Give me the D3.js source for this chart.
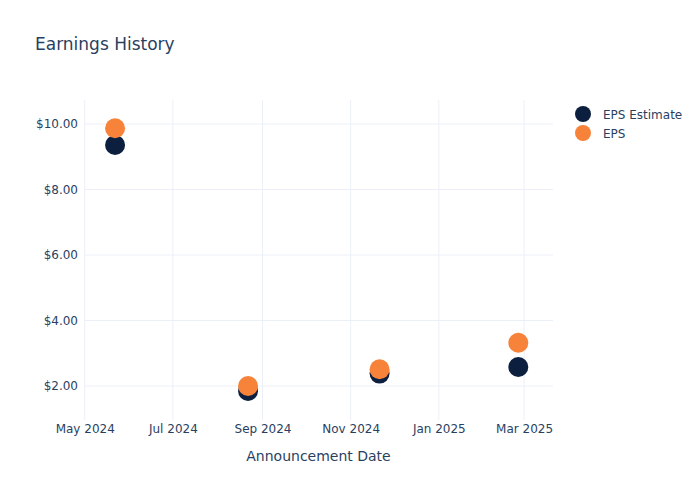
<!DOCTYPE html>
<html>
<head>
<meta charset="utf-8">
<script src="https://cdn.jsdelivr.net/npm/d3@7"></script>
<style>
  body { margin: 0; background: #fff; }
  text { font-family: "DejaVu Sans", sans-serif; fill: #2a3f5f; }
</style>
</head>
<body>
<svg id="chart" width="700" height="500"></svg>
<script>
const dates = ["2024-05-22", "2024-08-22", "2024-11-21", "2025-02-25"];
const epsEstimate = [9.36, 1.85, 2.38, 2.58];
const epsActual = [9.87, 2.00, 2.51, 3.32];
const xTicks = ["2024-05-01", "2024-07-01", "2024-09-01", "2024-11-01", "2025-01-01", "2025-03-01"];
const yTicks = [2, 4, 6, 8, 10];
const seriesNames = ["EPS Estimate", "EPS"];
const seriesColors = ["#0c1f3f", "#f7833b"];

const parse = d3.utcParse("%Y-%m-%d");
const svg = d3.select("#chart");
const pL = 84, pR = 553, pT = 100, pB = 420;

const x = d3.scaleUtc()
  .domain([new Date(Date.UTC(2024, 3, 30, 12)), new Date(Date.UTC(2025, 2, 21))])
  .range([pL, pR]);
const y = d3.scaleLinear().domain([0.962, 10.733]).range([pB, pT]);

// gridlines
svg.append("g").selectAll("line").data(xTicks).join("line")
  .attr("x1", d => x(parse(d))).attr("x2", d => x(parse(d)))
  .attr("y1", pT).attr("y2", pB)
  .attr("stroke", "#ebf0f8").attr("stroke-width", 1);
svg.append("g").selectAll("line").data(yTicks).join("line")
  .attr("x1", pL).attr("x2", pR)
  .attr("y1", d => y(d)).attr("y2", d => y(d))
  .attr("stroke", "#ebf0f8").attr("stroke-width", 1);

// axes
const fmtDate = d3.utcFormat("%b %Y");
const xAxis = d3.axisBottom(x).tickValues(xTicks.map(parse)).tickFormat(fmtDate).tickSize(0).tickPadding(4);
const gx = svg.append("g").attr("transform", `translate(0,${pB})`).call(xAxis);
gx.select(".domain").remove();
gx.selectAll("text").attr("font-size", 12).style("fill", "#2a3f5f").attr("font-family", "DejaVu Sans, sans-serif");

const yAxis = d3.axisLeft(y).tickValues(yTicks).tickFormat(d => "$" + d3.format(".2f")(d)).tickSize(0).tickPadding(6);
const gy = svg.append("g").attr("transform", `translate(${pL},0)`).call(yAxis);
gy.select(".domain").remove();
gy.selectAll("text").attr("font-size", 12).style("fill", "#2a3f5f").attr("font-family", "DejaVu Sans, sans-serif");

// markers
const series = [epsEstimate, epsActual];
series.forEach((vals, si) => {
  svg.append("g").selectAll("circle").data(vals).join("circle")
    .attr("cx", (d, i) => x(parse(dates[i])))
    .attr("cy", d => y(d))
    .attr("r", 10)
    .attr("fill", seriesColors[si]);
});

// title
svg.append("text").attr("x", 35).attr("y", 50).attr("font-size", 17).text("Earnings History");

// axis title
svg.append("text").attr("x", (pL + pR) / 2).attr("y", 461).attr("text-anchor", "middle")
  .attr("font-size", 14).text("Announcement Date");

// legend
const lg = svg.append("g");
seriesNames.forEach((n, i) => {
  lg.append("circle").attr("cx", 583).attr("cy", 114 + i * 19).attr("r", 8).attr("fill", seriesColors[i]);
  lg.append("text").attr("x", 603).attr("y", 114 + i * 19 + 4.5).attr("font-size", 12).text(n);
});
</script>
</body>
</html>
